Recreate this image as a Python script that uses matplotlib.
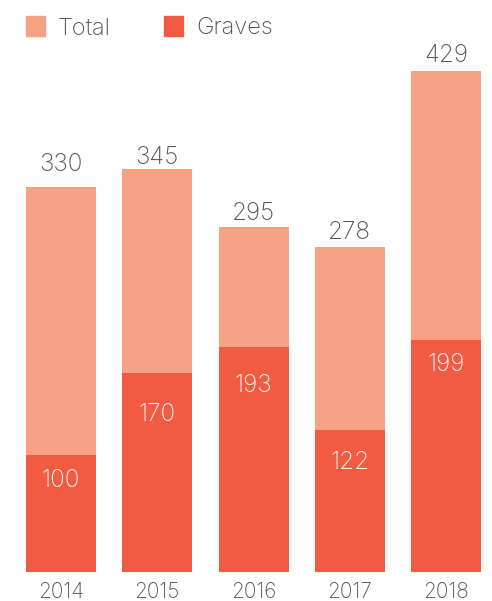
import matplotlib.pyplot as plt
from matplotlib.patches import Rectangle

years = ['2014', '2015', '2016', '2017', '2018']
total = [330, 345, 295, 278, 429]
graves = [100, 170, 193, 122, 199]

# label placement in pixels (gap above bar top / baseline drop inside bar)
top_gap = [16, 5, 7, 8, 9]
inner_drop = [32, 48, 45, 39, 31]

light = '#F7A285'
dark = '#F15B42'
grey = '#555555'

plt.rcParams['font.family'] = ['Inter', 'DejaVu Sans']

W, H = 492, 601
fig = plt.figure(figsize=(W / 100, H / 100), dpi=100)
ax = fig.add_axes([0, 0, 1, 1])

x = list(range(len(years)))
step = 96.25
ax.set_xlim(-61 / step, (W - 61) / step)
ppu = 1.168
ax.set_ylim(-29 / ppu, (H - 29) / ppu)
ax.axis('off')

ax.bar(x, total, width=70 / step, color=light)
ax.bar(x, graves, width=70 / step, color=dark)

for i in x:
    ax.annotate(str(total[i]), (i, total[i]), xytext=(0, top_gap[i]), textcoords='offset pixels',
                ha='center', va='baseline', fontsize=17.5, color=grey, fontweight='light')
    ax.annotate(str(graves[i]), (i, graves[i]), xytext=(0, -inner_drop[i]), textcoords='offset pixels',
                ha='center', va='baseline', fontsize=17.5, color='white', alpha=0.92,
                fontweight='light')
    ax.annotate(years[i], (i, 0), xytext=(0, -26.5), textcoords='offset pixels',
                ha='center', va='baseline', fontsize=15, color=grey, fontweight='light')

# legend drawn by hand
for px, label, c in [(26, 'Total', light), (164, 'Graves', dark)]:
    fig.patches.append(Rectangle((px / W, 1 - 35.5 / H), 19 / W, 19.5 / H,
                                 transform=fig.transFigure, color=c))
    fig.text((px + 32) / W, 1 - 34.3 / H, label, ha='left', va='baseline',
             fontsize=17, color=grey, fontweight='light')

fig.savefig('out.png', dpi=100)
